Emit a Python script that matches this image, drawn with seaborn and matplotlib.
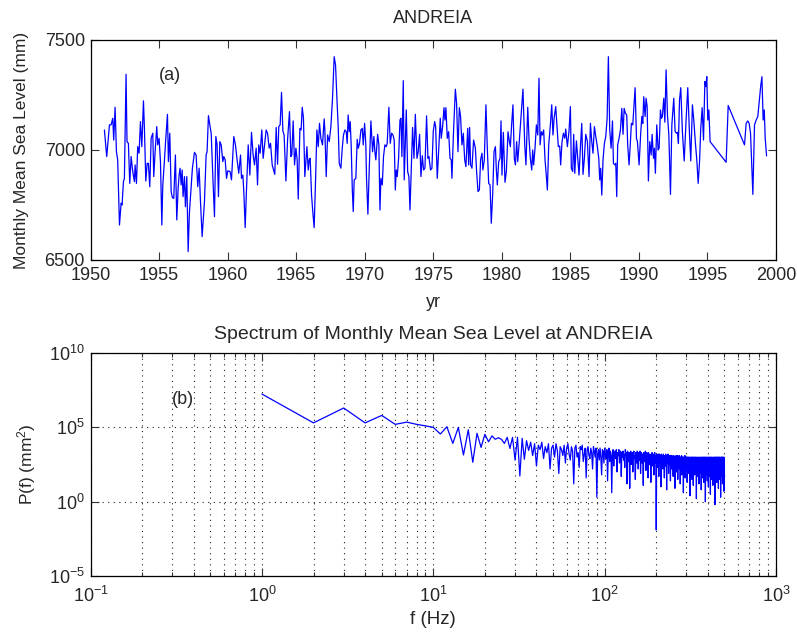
import numpy as np
import pandas as pd
import matplotlib
matplotlib.use("Agg")
import matplotlib.pyplot as plt
import matplotlib.ticker as mticker
import seaborn as sns

station = "ANDREIA"

# Monthly mean sea level record (decimal year, mm)
years = [
    1951.01, 1951.18, 1951.38, 1951.50, 1951.62, 1951.69, 1951.79, 1951.89, 1951.98, 1952.11,
    1952.23, 1952.30, 1952.40, 1952.47, 1952.59, 1952.66, 1952.76, 1952.86, 1952.96, 1953.05,
    1953.10, 1953.20, 1953.25, 1953.35, 1953.44, 1953.54, 1953.64, 1953.74, 1953.86, 1953.93,
    1954.03, 1954.13, 1954.22, 1954.32, 1954.42, 1954.54, 1954.61, 1954.71, 1954.83, 1954.90,
    1955.00, 1955.10, 1955.20, 1955.27, 1955.37, 1955.49, 1955.61, 1955.68, 1955.78, 1955.88,
    1955.97, 1956.07, 1956.19, 1956.29, 1956.39, 1956.46, 1956.53, 1956.61, 1956.68, 1956.75,
    1956.85, 1956.92, 1957.02, 1957.12, 1957.21, 1957.31, 1957.43, 1957.58, 1957.70, 1957.82,
    1957.92, 1958.02, 1958.14, 1958.31, 1958.43, 1958.50, 1958.60, 1958.70, 1958.80, 1958.92,
    1959.04, 1959.14, 1959.23, 1959.33, 1959.43, 1959.53, 1959.65, 1959.72, 1959.82, 1959.92,
    1960.01, 1960.18,
    1960.28, 1960.45, 1960.57, 1960.69, 1960.81, 1960.94, 1961.01, 1961.11, 1961.18, 1961.28,
    1961.37, 1961.50, 1961.62, 1961.74, 1961.86, 1961.96, 1962.08, 1962.18, 1962.27, 1962.37,
    1962.49, 1962.59, 1962.71, 1962.81, 1962.91, 1963.03, 1963.13, 1963.25, 1963.35, 1963.44,
    1963.54, 1963.64, 1963.73, 1963.83, 1963.93, 1964.03, 1964.12, 1964.25, 1964.37, 1964.51,
    1964.61, 1964.68, 1964.78, 1964.88, 1964.98, 1965.07, 1965.15, 1965.27, 1965.36, 1965.44,
    1965.53, 1965.63, 1965.78, 1965.88, 1965.95, 1966.02, 1966.12, 1966.22, 1966.31, 1966.41,
    1966.51, 1966.61, 1966.70, 1966.80, 1966.92, 1967.04, 1967.09, 1967.19, 1967.29, 1967.41,
    1967.53, 1967.65, 1967.77, 1967.87, 1967.97, 1968.07, 1968.14, 1968.26, 1968.36, 1968.45,
    1968.55, 1968.65, 1968.72, 1968.79, 1968.87, 1968.94, 1969.01, 1969.09, 1969.16, 1969.23,
    1969.35, 1969.45, 1969.53, 1969.62, 1969.72, 1969.82, 1969.89, 1969.99, 1970.08,
    1970.13, 1970.23, 1970.33, 1970.45, 1970.57, 1970.67, 1970.74, 1970.81, 1970.94, 1971.03,
    1971.11, 1971.18, 1971.28, 1971.37, 1971.47, 1971.57, 1971.64, 1971.76, 1971.86, 1971.96,
    1972.06, 1972.15, 1972.23, 1972.30, 1972.37, 1972.47, 1972.57, 1972.64, 1972.71, 1972.81,
    1972.88, 1973.03, 1973.13, 1973.22, 1973.30, 1973.39, 1973.49, 1973.59, 1973.69, 1973.81,
    1973.90, 1974.00, 1974.10, 1974.20, 1974.29, 1974.39, 1974.51, 1974.61, 1974.68, 1974.80,
    1974.90, 1975.00, 1975.10, 1975.17, 1975.29, 1975.39, 1975.51, 1975.58, 1975.68, 1975.78,
    1975.85, 1975.92, 1976.02, 1976.12, 1976.22, 1976.31, 1976.36, 1976.48, 1976.61, 1976.70,
    1976.80, 1976.90, 1976.99, 1977.09, 1977.19, 1977.29, 1977.38, 1977.51, 1977.58, 1977.65,
    1977.72, 1977.82, 1977.94, 1978.07, 1978.16, 1978.26, 1978.36, 1978.45, 1978.55, 1978.62,
    1978.72, 1978.84, 1978.94, 1979.04, 1979.14, 1979.23, 1979.33, 1979.43, 1979.53, 1979.60,
    1979.67, 1979.77, 1979.87, 1979.94, 1980.01, 1980.11,
    1980.23, 1980.33, 1980.45, 1980.55, 1980.62, 1980.72, 1980.81, 1980.91, 1980.99, 1981.08,
    1981.16, 1981.28, 1981.42, 1981.54, 1981.67, 1981.76, 1981.89, 1981.98, 1982.08, 1982.18,
    1982.25, 1982.32, 1982.42, 1982.52, 1982.62, 1982.71, 1982.79, 1982.88, 1982.96, 1983.05,
    1983.15, 1983.25, 1983.32, 1983.42, 1983.54, 1983.64, 1983.73, 1983.81, 1983.93, 1984.03,
    1984.12, 1984.22, 1984.29, 1984.39, 1984.49, 1984.59, 1984.66, 1984.78, 1984.90, 1985.00,
    1985.07, 1985.17, 1985.24, 1985.32, 1985.44, 1985.53, 1985.63, 1985.73, 1985.83, 1985.92,
    1986.02, 1986.12, 1986.24, 1986.36, 1986.46, 1986.56, 1986.65, 1986.75, 1986.85, 1986.95,
    1987.07, 1987.14, 1987.21, 1987.29, 1987.38, 1987.48, 1987.58, 1987.68, 1987.77, 1987.87,
    1987.97, 1988.07, 1988.14, 1988.24, 1988.31, 1988.38, 1988.45, 1988.55, 1988.65, 1988.75,
    1988.84, 1988.92, 1989.01, 1989.11, 1989.18, 1989.28, 1989.38, 1989.45, 1989.55, 1989.62,
    1989.72, 1989.82, 1989.89, 1990.01,
    1990.13, 1990.21, 1990.28, 1990.35, 1990.45, 1990.52, 1990.60, 1990.69, 1990.79, 1990.89,
    1990.96, 1991.06, 1991.13, 1991.20, 1991.30, 1991.40, 1991.47, 1991.57, 1991.64, 1991.71,
    1991.81, 1991.89, 1991.98, 1992.08, 1992.18, 1992.30, 1992.40, 1992.54, 1992.64, 1992.74,
    1992.81, 1992.88, 1992.96, 1993.05, 1993.17, 1993.30, 1993.44, 1993.56, 1993.69, 1993.78,
    1993.90, 1994.00, 1994.12, 1994.22, 1994.32, 1994.42, 1994.51, 1994.61, 1994.71, 1994.81,
    1994.88, 1994.95, 1995.02, 1995.10, 1995.19, 1996.36, 1996.51, 1997.70, 1997.82, 1997.94,
    1998.04, 1998.14, 1998.21, 1998.31, 1998.43, 1998.55, 1998.67, 1998.80, 1998.89, 1998.97,
    1999.06, 1999.14, 1999.21, 1999.31,
]

sea_level_mm = [
    7091, 6970, 7114, 7114, 7144, 7045, 7194, 6992, 6955, 6659,
    6758, 6750, 6856, 6871, 7344, 7038, 7030, 6848, 6970, 6917,
    6894, 6856, 6932, 6848, 7015, 6985, 7129, 7015, 7223, 7098,
    6859, 6939, 6939, 6833, 7053, 7076, 6879, 6992, 7106, 7023,
    7053, 6947, 6659, 6841, 6932, 7053, 7162, 6947, 7076, 6811,
    6783, 6780, 6977, 6682, 6826, 6886, 6917, 6841, 6909, 6788,
    6879, 6742, 6879, 6538, 6712, 6803, 6917, 6989, 6977, 6833,
    6917, 6765, 6606, 6765, 6977, 6992, 7156, 7114, 7076, 6879,
    6697, 7061, 7023, 6788, 7038, 7023, 6947, 6970, 6955, 6871,
    6905, 6902,
    6864, 7061, 7023, 6955, 6894, 6977, 6871, 6886, 6811, 6647,
    6811, 7023, 6886, 7080, 6977, 6932, 7008, 6841, 7023, 6985,
    7091, 6962, 7030, 7091, 7076, 7008, 7030, 6932, 6909, 6889,
    7102, 6935, 7106, 7114, 7262, 7086, 7068, 6859, 7045, 7174,
    6970, 6977, 7132, 6932, 7008, 6955, 6777, 7098, 7091, 7194,
    7144, 6879, 7015, 6909, 6955, 6962, 6795, 6712, 6647, 6856,
    7091, 7015, 7121, 7053, 7023, 7141, 7091, 6879, 7068, 7038,
    7106, 7235, 7424, 7386, 7235, 7098, 6939, 6917, 7008, 7068,
    7091, 7083, 7030, 7159, 7083, 7129, 7023, 6826, 6720, 6864,
    6871, 7048, 7008, 7030, 7091, 7098, 7023, 7121, 7023,
    6871, 6708, 6917, 7132, 6992, 7061, 6992, 6955, 7071, 7023,
    6727, 6871, 6841, 6970, 7023, 7015, 7030, 7194, 7030, 7076,
    7068, 7045, 6818, 6909, 6879, 6962, 7136, 7144, 6970, 7315,
    6864, 7182, 6902, 6879, 6727, 6902, 7102, 6962, 7162, 6962,
    6992, 7071, 6879, 6974, 6909, 6917, 7155, 6962, 6970, 6909,
    6917, 7086, 7129, 7106, 6871, 6992, 7144, 7053, 7106, 7192,
    7136, 7192, 7053, 7083, 6962, 6955, 6871, 7091, 7276, 7212,
    6992, 7192, 7152, 7023, 7076, 6955, 6924, 7098, 6932, 7102,
    6932, 6917, 7045, 7008, 6902, 6811, 6818, 6955, 6985, 6909,
    6955, 7205, 7008, 6848, 6841, 6667, 6795, 6992, 7015, 6909,
    6841, 6947, 6962, 7132, 6886, 7080,
    6853, 6902, 7083, 7038, 7015, 7121, 7205, 6962, 6932, 7038,
    6947, 7045, 7167, 7276, 7023, 6932, 7194, 7053, 6962, 6909,
    7000, 6932, 7008, 7114, 7068, 7326, 7023, 7083, 7068, 7091,
    6955, 6879, 6818, 7023, 7114, 7205, 7068, 7144, 7197, 7098,
    7015, 7018, 6932, 7038, 7076, 7053, 7095, 7015, 7086, 7197,
    6917, 6902, 7071, 6894, 7041, 6970, 6886, 7011, 7121, 6889,
    6962, 7071, 7038, 6879, 7121, 7038, 6985, 7106, 7061, 7023,
    6962, 6864, 6917, 6795, 6955, 7030, 7061, 7144, 7424, 7091,
    7008, 7132, 6939, 6932, 6939, 6788, 7023, 7053, 7091, 7189,
    7071, 7189, 7167, 7159, 7023, 6932, 7038, 7121, 7114, 7186,
    7283, 7053, 7038, 6932,
    7076, 7152, 7121, 7242, 7152, 7235, 7197, 6859, 7038, 6977,
    7071, 6962, 7008, 6894, 7114, 7000, 7008, 7182, 7144, 7152,
    7235, 7126, 7364, 7159, 7071, 6798, 7114, 7235, 7083, 7076,
    7080, 7030, 7227, 7283, 7083, 6950, 7136, 7283, 7068, 6950,
    7205, 7136, 7030, 6955, 6848, 6947, 7098, 7192, 7045, 7311,
    7288, 7333, 7136, 7182, 7038, 6944, 7202, 7023, 7121, 7132,
    7121, 7076, 6962, 6798, 7114, 7136, 7152, 7235, 7295, 7333,
    7136, 7182, 7053, 6973,
]

# Power spectrum of the record: frequency index (Hz) and log10 of power (mm^2)
freq_hz = np.arange(1, 501)
log10_power = [
    7.24, 5.30, 6.30, 5.30, 5.80, 5.20, 5.35, 5.20, 5.10, 5.00,
    4.55, 5.04, 3.92, 5.00, 3.14, 4.83, 2.65, 4.60, 3.65, 4.53,
    4.03, 4.42, 4.20, 4.30, 4.19, 3.92, 4.33, 3.58, 4.33, 2.80,
    4.33, 1.73, 4.26, 2.85, 4.10, 3.45, 4.00,
    3.1, 3.9, 2.4, 3.8, 3.5, 4.0, 2.9, 3.7, 3.3, 3.9,
    2.2, 3.6, 3.8, 3.0, 3.9, 3.4, 1.9, 3.7, 3.5, 3.1,
    3.8, 2.6, 3.6, 3.9, 3.2, 2.8, 3.7, 3.4, 1.2, 3.6,
    3.8, 3.0, 3.3, 2.3, 3.7, 3.5, 3.8, 2.7, 3.2, 3.6,
    1.6, 3.5, 3.7, 3.1, 2.9, 3.6, 3.3, 2.2, 3.7, 3.4,
    3.0, 3.6, 0.3, 3.2, 3.5, 2.8, 3.6, 3.0, 1.8, 3.5,
    3.4, 2.6, 3.6, 3.2, 2.9, 3.5, 1.4, 3.3, 3.6, 2.7,
    3.4, 3.1, 0.6, 3.3, 3.5, 2.4, 3.2, 3.4, 2.9, 3.5,
    2.0, 3.3, 3.1, 3.5, 2.6, 3.2, 3.4, 1.7, 3.3, 3.0,
    3.4, 2.8, 3.2, 2.3, 3.5, 3.1, 3.3, 1.2, 3.4, 3.0,
    2.7, 3.3, 0.9, 3.2, 3.4, 2.5, 3.1, 3.3, 2.0, 3.2,
    3.4, 2.9, 3.1, 1.5, 3.3, 3.0, 2.6, 3.4, 3.2, 2.2,
    3.3, 3.0, 2.8, 3.4, 1.9, 3.1, 3.3, 2.6, 3.2, 2.9,
    1.1, 3.3, 3.1, 2.7, 3.2, 3.4, 2.1, 3.0, 3.3, 2.8,
    3.1, 1.6, 3.3, 3.0, 2.5, 3.2, 3.1, 2.9, 1.3, 3.2,
    3.0, 3.3, 2.4, 3.1, 2.8, 3.2, 1.8, 3.0, 3.3, 2.6,
    3.1, 2.9, -1.9, 3.0, 3.2, 2.3, 3.1, 2.8, 3.2, 1.7,
    3.0, 3.2, 2.6, 2.9, 3.1, 1.0, 3.2, 2.9, 2.5, 3.1,
    3.0, 2.2, 3.2, 2.8, 3.0, 1.6, 3.1, 2.9, 2.4, 3.2,
    2.7, 3.0, 0.8, 3.1, 2.9, 2.6, 3.2, 3.0, 1.9, 2.8,
    3.1, 2.5, 3.0, 2.9, 1.4, 3.1, 2.8, 3.0, 2.2, 3.1,
    2.9, 2.7, 3.0, 1.7, 2.9, 3.1, 2.4, 2.8, 3.0, 0.9,
    3.0, 2.8, 2.6, 3.1, 2.9, 2.0, 3.0, 2.7, 3.1, 1.5,
    2.9, 3.0, 2.5, 2.8, 3.1, 2.2, 2.9, 3.0, 1.2, 2.8,
    3.0, 2.6, 2.9, 3.1, 1.8, 2.8, 3.0, 2.4, 2.9, 3.0,
    0.6, 2.9, 2.7, 3.0, 2.3, 2.8, 3.1, 1.6, 2.9, 2.6,
    3.0, 2.8, 2.1, 3.0, 2.9, 1.3, 2.8, 3.0, 2.5, 2.9,
    2.7, 3.0, 1.9, 2.8, 2.9, 2.4, 3.0, 0.4, 2.8, 2.9,
    2.6, 3.0, 2.2, 2.8, 2.9, 1.5, 3.0, 2.7, 2.5, 2.9,
    3.0, 1.1, 2.8, 2.9, 2.3, 3.0, 2.7, 1.8, 2.9, 2.8,
    2.6, 3.0, 2.0, 2.8, 2.9, 0.2, 2.7, 3.0, 2.4, 2.8,
    2.9, 1.7, 2.8, 3.0, 2.5, 2.7, 2.9, 1.2, 2.8, 2.9,
    2.3, 3.0, 2.7, 1.9, 2.9, 2.8, 2.6, 3.0, 0.8, 2.8,
    2.9, 2.4, 2.7, 3.0, 1.6, 2.8, 2.9, 2.2, 2.7, 3.0,
    2.5, 1.3, 2.9, 2.8, 2.6, 3.0, 2.0, 2.8, 2.9, 0.0,
    2.7, 3.0, 2.4, 2.8, 1.8, 2.9, 2.7, 2.5, 3.0, 1.4,
    2.8, 2.9, 2.3, 2.7, 3.0, 1.0, 2.8, 2.9, 2.6, 2.8,
    1.7, 3.0, 2.7, 2.4, 2.9, 2.8, 0.5, 2.7, 3.0, 2.2,
    2.8, 2.9, 1.5, 2.7, 3.0, 2.5, 2.8, 2.0, 2.9, 2.7,
    1.1, 2.8, 3.0, 2.4, 2.7, 2.9, 1.8, 2.8, 2.6, 3.0,
    2.3, 2.9, -0.2, 2.8, 2.7, 2.5, 3.0, 1.6, 2.8, 2.9,
    2.2, 2.7, 3.0, 1.3, 2.8, 2.9, 2.4, 2.7, 3.0, 1.9,
    2.8, 2.6, 2.9, 0.9, 2.7, 3.0, 2.3, 2.8, 2.9, 1.5,
    2.7, 3.0, 2.5, 2.8, 2.1, 2.9, 2.7, 0.3, 2.8, 3.0,
    2.4, 2.7, 2.9, 1.7, 2.8, 3.0, 2.2, 2.6, 2.9, 1.2,
    2.8, 3.0, 2.5, 2.7, 1.9, 2.9, 2.8, 2.3, 3.0, 0.7,
    2.8, 2.9, 1.6,
]

sns.set_style("ticks")
plt.rcParams["font.family"] = ["Liberation Sans", "DejaVu Sans"]
plt.rcParams["mathtext.fontset"] = "custom"
plt.rcParams["mathtext.rm"] = "Liberation Sans"
plt.rcParams["mathtext.it"] = "Liberation Sans:italic"
plt.rcParams["mathtext.bf"] = "Liberation Sans:bold"
plt.rcParams["axes.unicode_minus"] = True

FS_TICK = 13
FS_LABEL = 13
FS_YLABEL = 12.5
LINE = "#0000ff"

fig = plt.figure(figsize=(7.97, 6.35), dpi=100)
ax1 = fig.add_axes([0.1136, 0.5906, 0.8601, 0.3465])
ax2 = fig.add_axes([0.1136, 0.0929, 0.8601, 0.3512])

# (a) time series
sea = pd.DataFrame({"yr": years, "level": sea_level_mm})
sns.lineplot(data=sea, x="yr", y="level", ax=ax1, color=LINE, linewidth=0.9,
             estimator=None, sort=False)
ax1.set_xlim(1950, 2000)
ax1.set_ylim(6500, 7500)
ax1.set_xticks(np.arange(1950, 2001, 5))
ax1.set_yticks([6500, 7000, 7500])
ax1.set_xlabel("yr", fontsize=FS_LABEL, labelpad=7)
ax1.set_ylabel("Monthly Mean Sea Level (mm)", fontsize=FS_YLABEL, labelpad=11)
ax1.set_title(station, fontsize=FS_LABEL, pad=12)
ax1.text(1955.8, 7340, "(a)", fontsize=FS_LABEL, ha="center", va="center")

# (b) spectrum
spec = pd.DataFrame({"f": freq_hz, "P": 10.0 ** np.asarray(log10_power)})
sns.lineplot(data=spec, x="f", y="P", ax=ax2, color=LINE, linewidth=0.9,
             estimator=None, sort=False)
ax2.set_xscale("log")
ax2.set_yscale("log")
ax2.set_xlim(0.1, 1000)
ax2.set_ylim(1e-5, 1e10)
ax2.xaxis.set_major_locator(mticker.LogLocator(base=10, numticks=10))
ax2.xaxis.set_minor_locator(mticker.LogLocator(base=10, subs=np.arange(2, 10), numticks=20))
ax2.xaxis.set_minor_formatter(mticker.NullFormatter())
ax2.set_yticks([1e-5, 1e0, 1e5, 1e10])
ax2.yaxis.set_minor_locator(mticker.NullLocator())
ax2.set_xlabel("f (Hz)", fontsize=FS_LABEL + 0.5, labelpad=4)
ax2.set_ylabel("P(f) (mm$^2$)", fontsize=FS_YLABEL, labelpad=8)
ax2.set_title("Spectrum of Monthly Mean Sea Level at " + station, fontsize=14, pad=10)
ax2.text(0.346, 6.9e6, "(b)", fontsize=FS_LABEL, ha="center", va="center")
ax2.set_axisbelow(True)
grid_kw = dict(color="#222222", linestyle=(0, (1, 4)), linewidth=0.8)
ax2.grid(True, which="major", axis="both", **grid_kw)
ax2.grid(True, which="minor", axis="x", **grid_kw)

for ax in (ax1, ax2):
    ax.tick_params(which="both", direction="in", top=True, right=True,
                   labelsize=FS_TICK, color="#333333", width=0.8)
    ax.tick_params(which="major", length=5.5)
    ax.tick_params(which="minor", length=3)
    ax.tick_params(axis="x", which="major", pad=5)
    ax.tick_params(axis="y", which="major", pad=4)
    for sp in ax.spines.values():
        sp.set_color("black")
        sp.set_linewidth(0.9)
ax2.tick_params(axis="x", which="major", pad=7)

fig.savefig("out.png", dpi=100)
